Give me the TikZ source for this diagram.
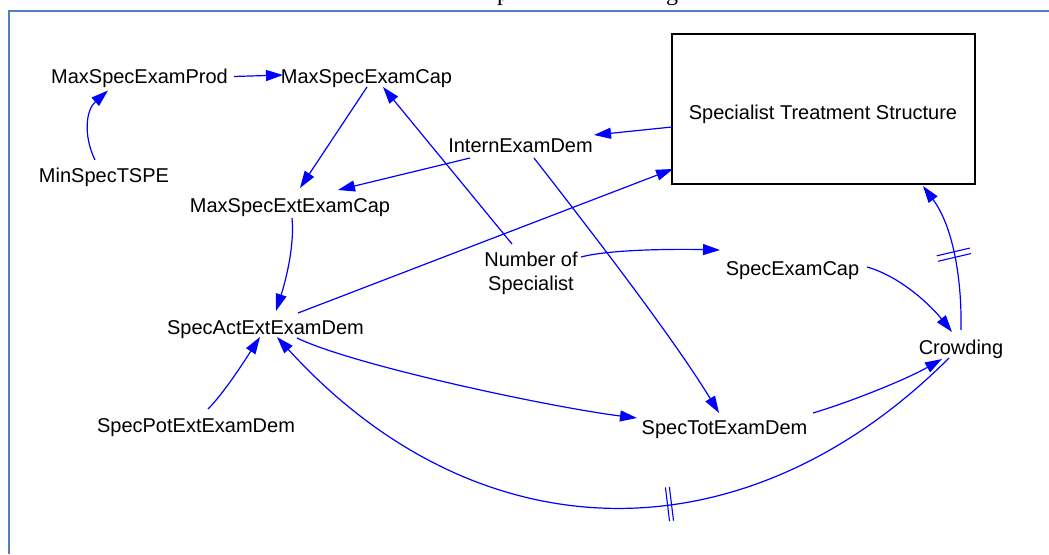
\documentclass[tikz,border=0pt]{standalone}
\usepackage{fontspec}
\setmainfont{Liberation Sans}
\newfontfamily\capfont{Liberation Serif}
\usetikzlibrary{arrows.meta,decorations.markings}
\definecolor{framecol}{RGB}{79,129,189}
\definecolor{linkcol}{RGB}{0,0,255}
\tikzset{
  var/.style={font=\fontsize{20}{24}\selectfont, inner sep=0pt,
              text height=14.5pt, text depth=4.2pt},
  multivar/.style={font=\fontsize{20}{24}\selectfont, inner sep=0pt, align=center},
  link/.style={draw=linkcol, line width=1.2pt,
               -{Triangle[length=17pt,width=11pt]}},
  delaymark/.style 2 args={postaction={decorate},
    decoration={markings, mark=at position #1 with {
      \draw[linkcol, line width=1.1pt, -] (-#2,-17pt) -- (-#2,17pt)
                                          (#2,-17pt) -- (#2,17pt);}}},
}
\begin{document}
\begin{tikzpicture}[x=1pt,y=-1pt]
\useasboundingbox (0,0) rectangle (1049,554);

% caption fragments above the frame
\begin{scope}
  \clip (0,0) rectangle (1049,554);
  \node[font=\capfont\fontsize{24}{28}\selectfont, anchor=base west, inner sep=0pt] (capp) at (497,1) {p};
  \node[font=\capfont\fontsize{24}{28}\selectfont, anchor=base, inner sep=0pt] (capg) at (672,0.5) {g};
\end{scope}

% frame
\draw[framecol, line width=2pt] (9,554) -- (9,11) -- (1049,11);

% variables
\node[var] (prod)   at (139.5,78) {MaxSpecExamProd};
\node[var] (cap)    at (366.5,78) {MaxSpecExamCap};
\node[var] (minT)   at (104,177)  {MinSpecTSPE};
\node[var] (extcap) at (290,207)  {MaxSpecExtExamCap};
\node[draw=black, line width=1.2pt, minimum width=303pt, minimum height=150pt,
      inner sep=0pt] (stsbox) at (823.5,109) {};
\node[var] (ststitle) at (823,114) {Specialist Treatment Structure};
\node[var] (intern) at (520.5,147) {InternExamDem};
\node[multivar] (numspec) at (531,273) {Number of\\Specialist};
\node[var] (sec)    at (792.5,270) {SpecExamCap};
\node[var] (act)    at (265.5,329) {SpecActExtExamDem};
\node[var] (pot)    at (196,427)   {SpecPotExtExamDem};
\node[var] (tot)    at (724.5,429) {SpecTotExamDem};
\node[var] (crowd)  at (961,349)   {Crowding};

% links
\draw[link] ([shift={(94.5,-1.5)}]prod.center) -- ([shift={(-83.5,-3)}]cap.center);
\draw[link] ([shift={(-9,-17)}]minT.center) .. controls (83,135) and (86,110) .. ([shift={(-31.5,12.5)}]prod.center);
\draw[link] ([shift={(0.5,9)}]cap.center) -- ([shift={(10,-19)}]extcap.center);
\draw[link] ([shift={(-19,-29)}]numspec.center) -- ([shift={(16.5,9)}]cap.center);
\draw[link] ([shift={(-50.5,11)}]intern.center) -- ([shift={(48,-17)}]extcap.center);
\draw[link] ([shift={(-151.5,18)}]stsbox.center) -- ([shift={(73.5,-12)}]intern.center);
\draw[link] ([shift={(32.5,-16)}]act.center) -- ([shift={(-150.5,60)}]stsbox.center);
\draw[link] ([shift={(13.5,11)}]intern.center) .. controls (594,235) and (674,339) .. ([shift={(-5.5,-16)}]tot.center);
\draw[link] ([shift={(2,11)}]extcap.center) .. controls (295,248) and (284,286) .. ([shift={(10.5,-18)}]act.center);
\draw[link] ([shift={(12,-18)}]pot.center) .. controls (225,392) and (247,357) .. ([shift={(-5.5,8)}]act.center);
\draw[link] ([shift={(50,-16)}]numspec.center) .. controls (611,249) and (680,249) .. ([shift={(-72.5,-20)}]sec.center);
\draw[link] ([shift={(74.5,-3)}]sec.center) .. controls (902,277) and (932,307) .. ([shift={(-9,-17)}]crowd.center);
\draw[link, delaymark={0.5}{2.8pt}] ([shift={(0,-19)}]crowd.center) .. controls (962,275) and (952,225) .. ([shift={(99.5,77)}]stsbox.center);
\draw[link] ([shift={(31.5,9)}]act.center) .. controls (355,366) and (555,408) .. ([shift={(-87.5,-11)}]tot.center);
\draw[link] ([shift={(88.5,-16)}]tot.center) .. controls (853,401) and (907,379) .. ([shift={(-19,10)}]crowd.center);
\draw[link, delaymark={0.42}{2pt}] ([shift={(-12,9)}]crowd.center) .. controls (747,560) and (480,560) .. ([shift={(11.5,8)}]act.center);
\end{tikzpicture}
\end{document}
